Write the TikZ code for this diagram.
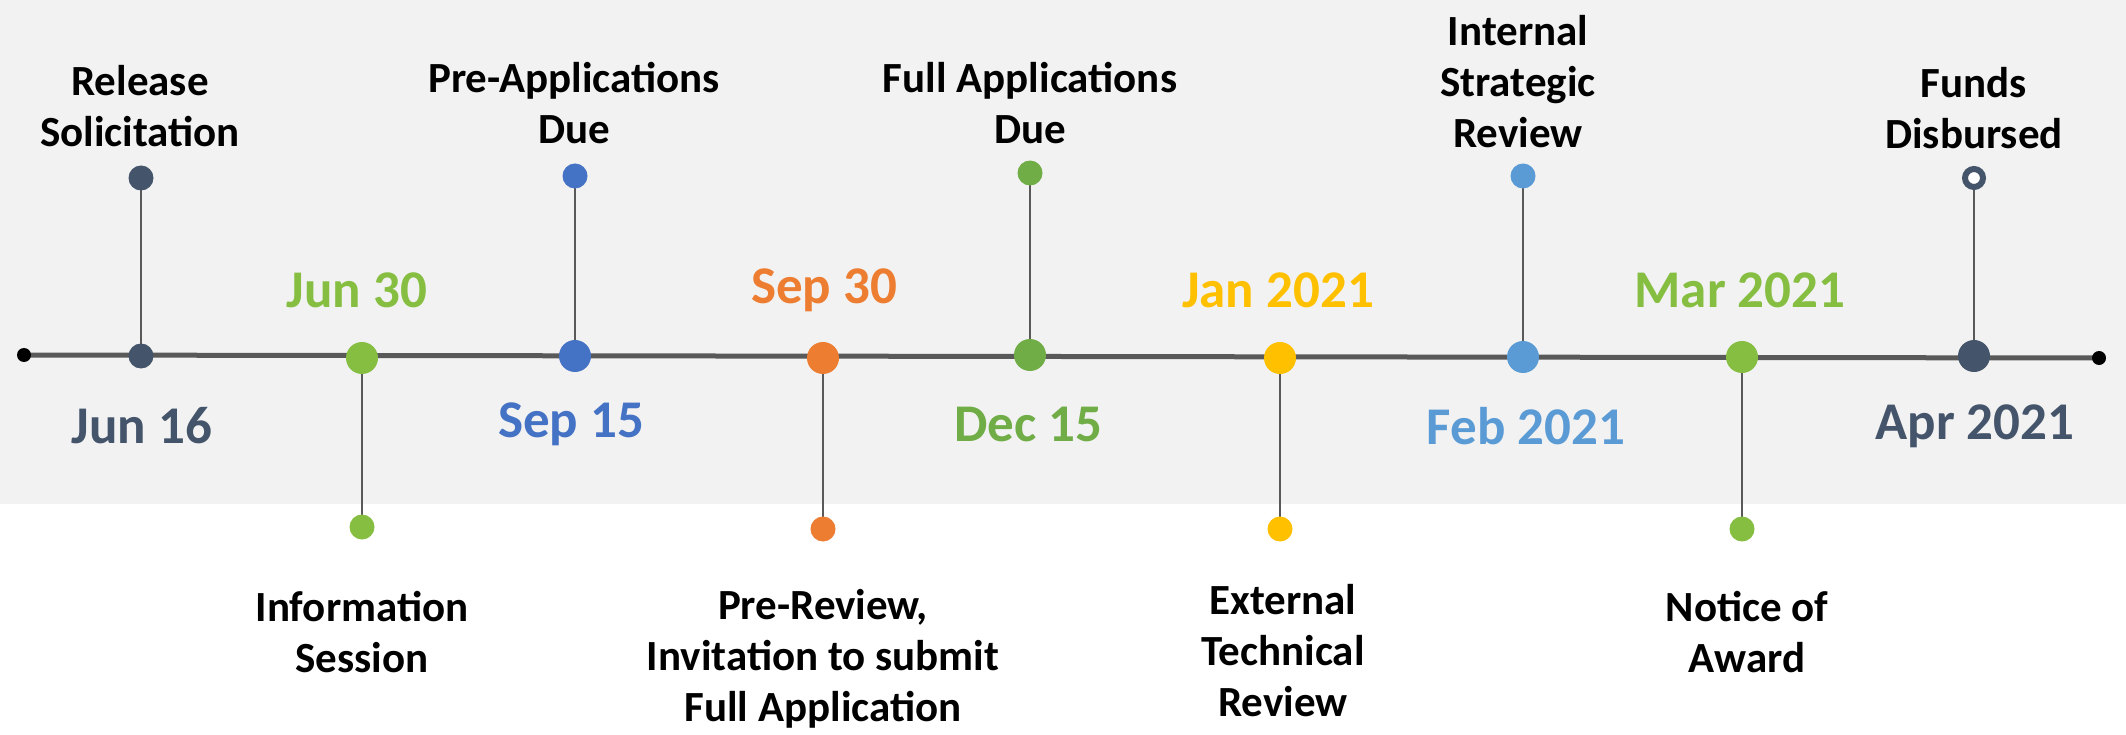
\documentclass[tikz,border=0pt]{standalone}
\usepackage{fontspec}
\setmainfont{Carlito}
\definecolor{slate}{HTML}{44546A}
\definecolor{blueA}{HTML}{4472C4}
\definecolor{orangeA}{HTML}{ED7D31}
\definecolor{greenA}{HTML}{70AD47}
\definecolor{greenB}{HTML}{86BE42}
\definecolor{goldA}{HTML}{FFC000}
\definecolor{blueB}{HTML}{5B9BD5}
\definecolor{bgcol}{HTML}{F2F2F2}
\definecolor{axiscol}{HTML}{595959}
\pgfdeclarelayer{backmost}
\pgfdeclarelayer{back}
\pgfsetlayers{backmost,back,main}
\tikzset{
  bigdot/.style={circle, inner sep=0pt, minimum size=32pt, fill=#1},
  smalldot/.style={circle, inner sep=0pt, minimum size=25pt, fill=#1},
  enddot/.style={circle, inner sep=0pt, minimum size=14pt, fill=black},
  stem/.style={draw=axiscol, line width=2.4pt},
  axisline/.style={draw=axiscol, line width=5pt},
  datelbl/.style={font=\bfseries\fontsize{53}{63}\selectfont, text=#1, inner sep=0pt},
  evlbl/.style={font=\bfseries\fontsize{43}{51}\selectfont, align=center, inner sep=0pt, text=black},
}
\begin{document}
\begin{tikzpicture}[x=1pt,y=-1pt]
\useasboundingbox (0,0) rectangle (2126,735);
\begin{pgfonlayer}{backmost}
\fill[bgcol] (0,0) rectangle (2126,504);
\end{pgfonlayer}
% end points
\node[enddot] (L) at (24,355) {};
\node[enddot] (R) at (2099,358) {};
% main dots
\node[smalldot=slate] (m1) at (141,356) {};
\node[bigdot=greenB] (m2) at (362,358) {};
\node[bigdot=blueA] (m3) at (575,356) {};
\node[bigdot=orangeA] (m4) at (823,358) {};
\node[bigdot=greenA] (m5) at (1030,355) {};
\node[bigdot=goldA] (m6) at (1280,358) {};
\node[bigdot=blueB] (m7) at (1523,357) {};
\node[bigdot=greenB] (m8) at (1742,357) {};
\node[bigdot=slate] (m9) at (1974,356) {};
% satellite dots
\node[smalldot=slate] (t1) at (141,178) {};
\node[smalldot=greenB] (b2) at (362,527) {};
\node[smalldot=blueA] (t3) at (575,176) {};
\node[smalldot=orangeA] (b4) at (823,529) {};
\node[smalldot=greenA] (t5) at (1030,173) {};
\node[smalldot=goldA] (b6) at (1280,529) {};
\node[smalldot=blueB] (t7) at (1523,176) {};
\node[smalldot=greenB] (b8) at (1742,529) {};
\node[circle, inner sep=0pt, minimum size=18pt, fill=white, draw=slate, line width=6pt] (t9) at (1974,178) {};
\begin{pgfonlayer}{back}
\draw[axisline] (L.center) -- (R.center);
\draw[stem] (t1.center) -- (m1.center);
\draw[stem] (b2.center) -- (m2.center);
\draw[stem] (t3.center) -- (m3.center);
\draw[stem] (b4.center) -- (m4.center);
\draw[stem] (t5.center) -- (m5.center);
\draw[stem] (b6.center) -- (m6.center);
\draw[stem] (t7.center) -- (m7.center);
\draw[stem] (b8.center) -- (m8.center);
\draw[stem] (t9.center) -- (m9.center);
\end{pgfonlayer}
% dates
\node[datelbl=slate] (d1) at (142,426) {Jun 16};
\node[datelbl=greenB] (d2) at (357,290) {Jun 30};
\node[datelbl=blueA] (d3) at (571,424) {Sep 15};
\node[datelbl=orangeA] (d4) at (824,290) {Sep 30};
\node[datelbl=greenA] (d5) at (1028,424) {Dec 15};
\node[datelbl=goldA] (d6) at (1278,290) {Jan 2021};
\node[datelbl=blueB] (d7) at (1526,426) {Feb 2021};
\node[datelbl=greenB] (d8) at (1740,290) {Mar 2021};
\node[datelbl=slate] (d9) at (1975,426) {Apr 2021};
% event labels
\node[evlbl] (e1) at (140,106) {Release\\Solicitation};
\node[evlbl] (e2) at (362,632) {Information\\Session};
\node[evlbl] (e3) at (574,103) {Pre-Applications\\Due};
\node[evlbl] (e4) at (823,659) {Pre-Review,\\Invitation to submit\\Full Application};
\node[evlbl] (e5) at (1030,103) {Full Applications\\Due};
\node[evlbl] (e6) at (1283,651) {External\\Technical\\Review};
\node[evlbl] (e7) at (1518,82) {Internal\\Strategic\\Review};
\node[evlbl] (e8) at (1747,632) {Notice of\\Award};
\node[evlbl] (e9) at (1974,108) {Funds\\Disbursed};
\end{tikzpicture}
\end{document}
